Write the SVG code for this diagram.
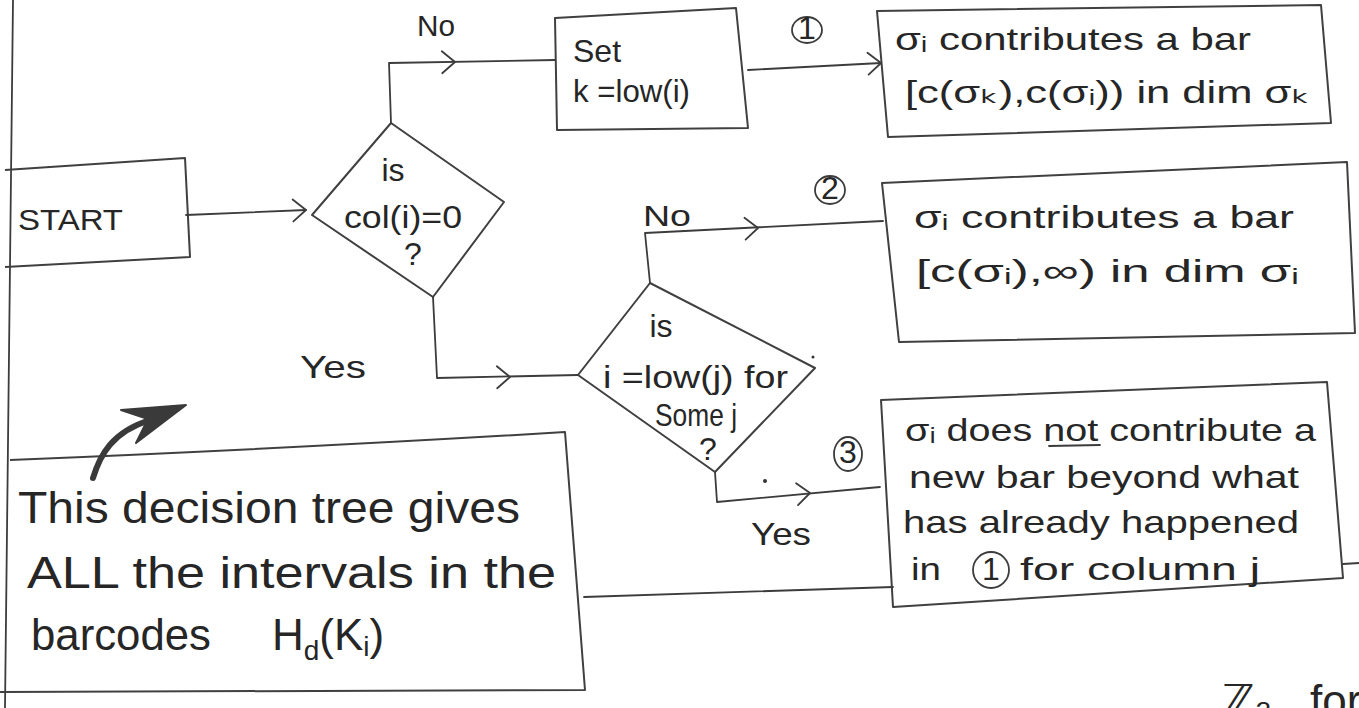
<svg xmlns="http://www.w3.org/2000/svg" xmlns:xlink="http://www.w3.org/1999/xlink" width="1359" height="708" viewBox="0 0 1359 708">
<defs>
<style>
.ln{fill:none;stroke:#3c3c3c;stroke-width:1.8;stroke-linejoin:round;stroke-linecap:round}
.box{fill:none;stroke:#404040;stroke-width:2;stroke-linejoin:round}
.t{font-family:"Liberation Sans","DejaVu Sans",sans-serif;fill:#262626;font-size:32px}
.big{font-size:44px}
.lbl{font-size:30px}
</style>
<path id="chev" d="M-13,-11 L0,0 L-13,11" fill="none" stroke="#3c3c3c" stroke-width="1.8" stroke-linecap="round" stroke-linejoin="round"/>
</defs>
<rect width="1359" height="708" fill="#ffffff"/>
<path class="ln" d="M13,0 C10,200 8,450 5,708"/>

<g id="start">
<path class="box" d="M5,170 L185,158 L190,257 L5,267"/>
<text class="t lbl" x="18" y="230" textLength="105" lengthAdjust="spacingAndGlyphs">START</text>
</g>

<g id="decision1">
<path class="box" d="M391,123 L504,202 L433,297 L312,215 Z"/>
<text class="t" x="393" y="181" text-anchor="middle">is</text>
<text class="t" x="344" y="228" textLength="118" lengthAdjust="spacingAndGlyphs">col(i)=0</text>
<text class="t" x="413" y="265" text-anchor="middle">?</text>
</g>

<g id="setk">
<path class="box" d="M555,18 L736,8 L748,128 L557,130 Z"/>
<text class="t" x="573" y="62">Set</text>
<text class="t" x="573" y="102" textLength="117" lengthAdjust="spacingAndGlyphs">k =low(i)</text>
</g>

<g id="result1">
<path class="box" d="M877,11 L1321,5 L1331,123 L888,137 Z"/>
<text class="t" x="895" y="50" textLength="356" lengthAdjust="spacingAndGlyphs">σᵢ contributes a bar</text>
<text class="t" x="905" y="103" textLength="405" lengthAdjust="spacingAndGlyphs">[c(σₖ),c(σᵢ)) in dim σₖ</text>
</g>

<g id="decision2">
<path class="box" d="M650,283 L815,368 L715,472 L578,375 Z"/>
<text class="t" x="661" y="337" text-anchor="middle">is</text>
<text class="t" x="603" y="388" font-size="30" textLength="185" lengthAdjust="spacingAndGlyphs">i =low(j) for</text>
<text class="t" x="655" y="426" font-size="26" textLength="82" lengthAdjust="spacingAndGlyphs">Some j</text>
<text class="t" x="708" y="460" font-size="26" text-anchor="middle">?</text>
<circle cx="813" cy="357" r="1.5" fill="#333"/>
<circle cx="765" cy="481" r="2" fill="#333"/>
</g>

<g id="result2">
<path class="box" d="M882,183 L1347,162 L1355,333 L899,342 Z"/>
<text class="t" x="914" y="228" textLength="380" lengthAdjust="spacingAndGlyphs">σᵢ contributes  a  bar</text>
<text class="t" x="916" y="282" textLength="383" lengthAdjust="spacingAndGlyphs">[c(σᵢ),∞) in dim σᵢ</text>
</g>

<g id="result3">
<path class="box" d="M881,400 L1327,382 L1343,578 L893,607 Z"/>
<path class="ln" d="M1343,564 L1359,563"/>
<text class="t" x="905" y="441" textLength="411" lengthAdjust="spacingAndGlyphs">σᵢ does not contribute a</text>
<path class="ln" d="M1049,446 L1100,445"/>
<text class="t" x="909" y="488" textLength="390" lengthAdjust="spacingAndGlyphs">new bar beyond what</text>
<text class="t" x="903" y="533" textLength="396" lengthAdjust="spacingAndGlyphs">has already happened</text>
<text class="t" x="911" y="580" textLength="30" lengthAdjust="spacingAndGlyphs">in</text>
<ellipse class="ln" cx="991" cy="570" rx="18" ry="18"/>
<text class="t" x="991" y="580" text-anchor="middle" font-size="27">1</text>
<text class="t" x="1020" y="580" textLength="240" lengthAdjust="spacingAndGlyphs">for column j</text>
</g>

<g id="note">
<path class="box" d="M10,460 Q300,448 565,432 L585,690 L0,692"/>
<text class="t big" x="18" y="523" textLength="502" lengthAdjust="spacingAndGlyphs">This decision tree gives</text>
<text class="t big" x="27" y="588" textLength="529" lengthAdjust="spacingAndGlyphs">ALL the intervals in the</text>
<text class="t big" x="31" y="650" textLength="180" lengthAdjust="spacingAndGlyphs">barcodes</text>
<text class="t big" x="272" y="650">H<tspan font-size="28" dy="10">d</tspan><tspan dy="-10">(K</tspan><tspan font-size="28" dy="6">i</tspan><tspan dy="-6">)</tspan></text>
<path d="M93,478 C100,455 112,432 150,420" fill="none" stroke="#3a3a3a" stroke-width="6" stroke-linecap="round"/>
<path d="M186,405 L121,410 L148,419 L136,443 Z" fill="#3a3a3a" stroke="#3a3a3a" stroke-width="2" stroke-linejoin="round"/>
</g>

<g id="labels">
<text class="t lbl" x="417" y="36" textLength="38" lengthAdjust="spacingAndGlyphs">No</text>
<text class="t lbl" x="643" y="226" textLength="48" lengthAdjust="spacingAndGlyphs">No</text>
<text class="t" x="300" y="378" textLength="66" lengthAdjust="spacingAndGlyphs">Yes</text>
<text class="t" x="751" y="545" textLength="60" lengthAdjust="spacingAndGlyphs">Yes</text>
<ellipse class="ln" cx="807" cy="30" rx="15" ry="13"/>
<text class="t" x="807" y="39" text-anchor="middle" font-size="24">1</text>
<ellipse class="ln" cx="830" cy="190" rx="15" ry="14"/>
<text class="t" x="830" y="199" text-anchor="middle" font-size="24">2</text>
<ellipse class="ln" cx="848" cy="454" rx="14" ry="17"/>
<text class="t" x="848" y="463" text-anchor="middle" font-size="24">3</text>
<text class="t big" x="1222" y="716">ℤ₂</text>
<text class="t big" x="1310" y="716">for</text>
</g>

<g id="connectors">
<path class="ln" d="M186,215 L306,210"/>
<use xlink:href="#chev" transform="translate(306,210) rotate(-2)"/>
<path class="ln" d="M391,123 L389,63 L555,60"/>
<use xlink:href="#chev" transform="translate(455,62) rotate(-1)"/>
<path class="ln" d="M748,70 L881,63"/>
<use xlink:href="#chev" transform="translate(881,63) rotate(-3)"/>
<path class="ln" d="M433,297 L437,378 L578,375"/>
<use xlink:href="#chev" transform="translate(510,377) rotate(-1)"/>
<path class="ln" d="M650,283 L645,233 L883,221"/>
<use xlink:href="#chev" transform="translate(758,228) rotate(-3)"/>
<path class="ln" d="M715,472 L717,502 L880,487"/>
<use xlink:href="#chev" transform="translate(810,493) rotate(-5)"/>
<path class="ln" d="M584,597 L893,587"/>
</g>
</svg>
